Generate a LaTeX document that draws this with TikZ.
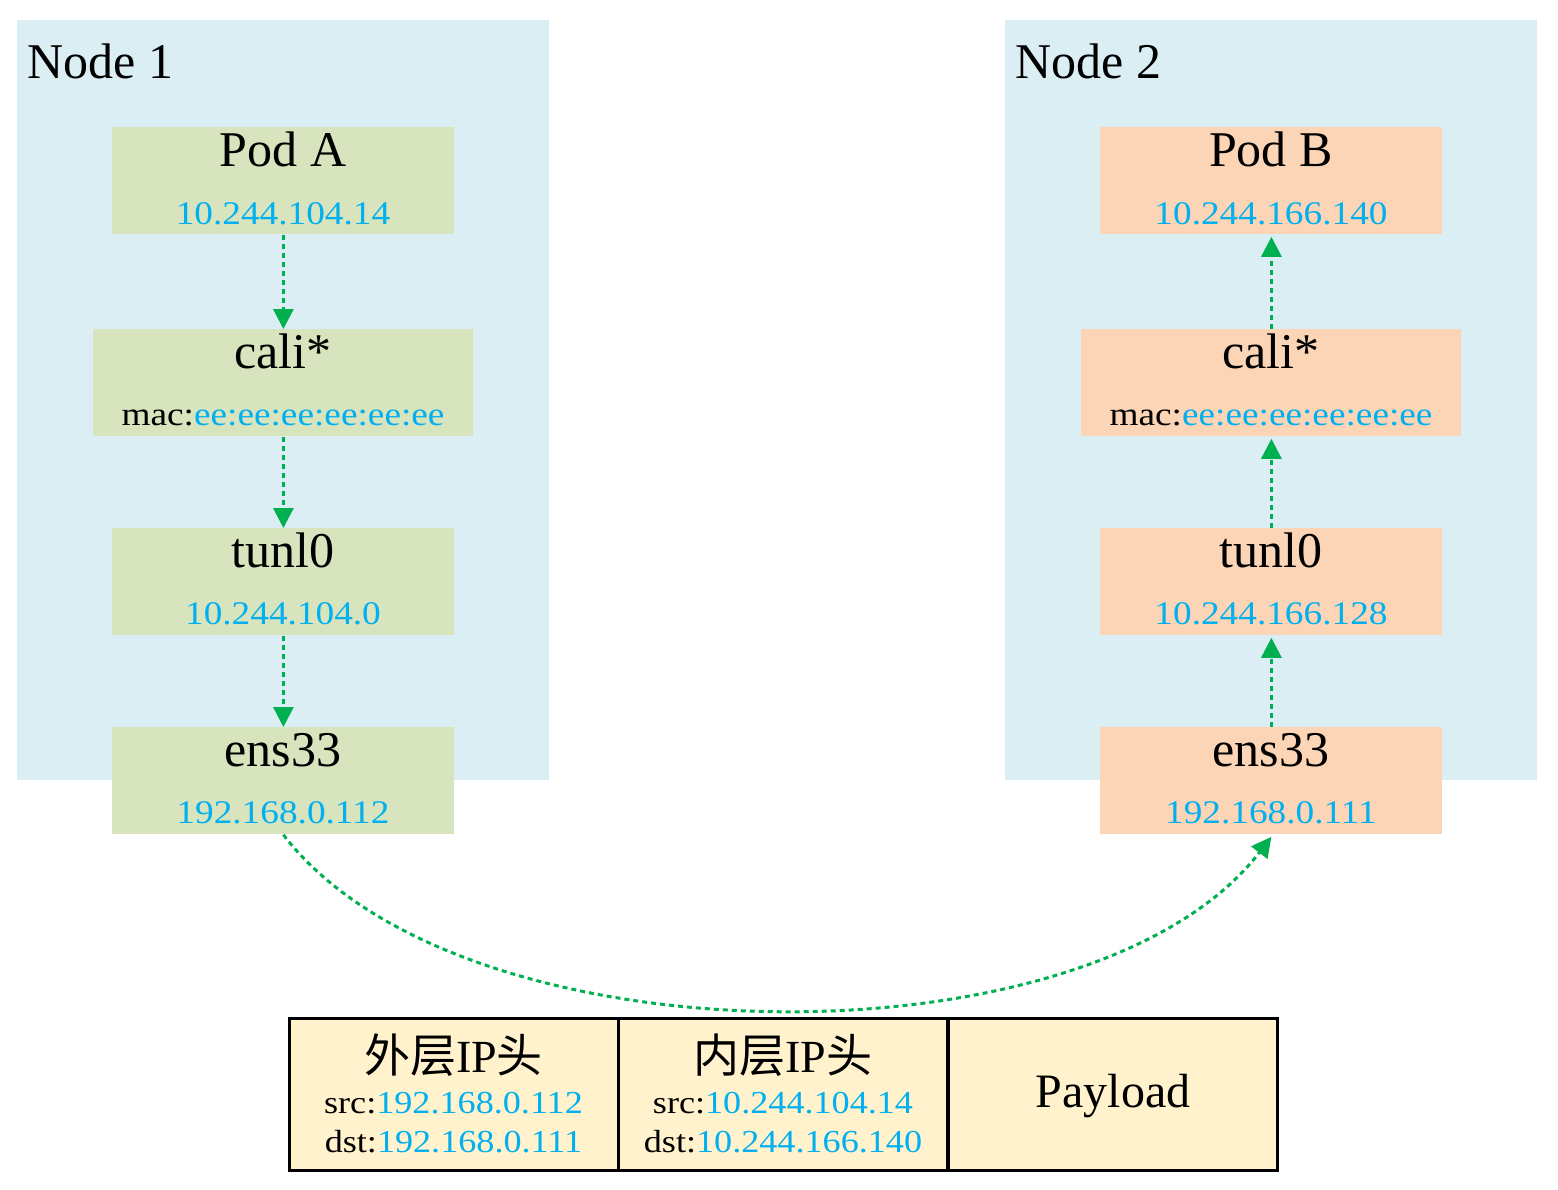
\documentclass[tikz,border=0pt]{standalone}
\usepackage{fontspec}
\setmainfont{Liberation Serif}
\newfontfamily\cjk{Noto Sans CJK SC}
\newfontfamily\widefont[FakeStretch=1.13]{Liberation Serif}
\usetikzlibrary{arrows.meta}
\definecolor{nodebg}{HTML}{DAEEF3}
\definecolor{greenbox}{HTML}{D7E4BD}
\definecolor{peachbox}{HTML}{FBD5B5}
\definecolor{tablebg}{HTML}{FFF2CC}
\definecolor{ipblue}{HTML}{00B0F0}
\definecolor{arrowgreen}{HTML}{00B050}
\begin{document}
\begin{tikzpicture}[x=0.5pt,y=-0.5pt,
  hostbox/.style={fill=nodebg, draw=none, inner sep=0pt, anchor=north west,
    minimum width=266pt, minimum height=380pt},
  ifbox/.style={draw=none, inner sep=0pt, anchor=north west,
    minimum width=171pt, minimum height=53.5pt},
  calibox/.style={ifbox, minimum width=190pt},
  title/.style={anchor=base, inner sep=0pt, font=\fontsize{25}{30}\selectfont},
  hosttitle/.style={anchor=base west, inner sep=0pt, font=\fontsize{25}{30}\selectfont},
  iptext/.style={anchor=base, inner sep=0pt, text=ipblue, font=\widefont\fontsize{16.5}{20}\selectfont},
  subtext/.style={anchor=base, inner sep=0pt, font=\widefont\fontsize{16}{20}\selectfont},
  cell/.style={draw=black, line width=1.5pt, fill=tablebg, inner sep=0pt,
    minimum width=164.5pt, minimum height=76pt},
  flow/.style={draw=arrowgreen, line width=1.5pt, dash pattern=on 2.5pt off 2pt,
    -{Triangle[length=10pt,width=10pt]}}]
\useasboundingbox (0,0) rectangle (1558,1189);

% hosts
\node[hostbox] (host1) at (17,20) {};
\node[hostbox] (host2) at (1005,20) {};
\node[hosttitle] (host1t) at (27,78) {Node 1};
\node[hosttitle] (host2t) at (1015,78) {Node 2};

% Node 1 interfaces
\node[ifbox, fill=greenbox] (podA) at (112,127) {};
\node[calibox, fill=greenbox] (cali1) at (93,329) {};
\node[ifbox, fill=greenbox] (tun1) at (112,528) {};
\node[ifbox, fill=greenbox] (ens1) at (112,727) {};

\node[title] (podAt) at (283,166) {Pod A};
\node[iptext] (podAip) at (283,224) {10.244.104.14};
\node[title] (cali1t) at (283,368) {cali*};
\node[iptext] (cali1ip) at (283,425) {\textcolor{black}{mac:}ee:ee:ee:ee:ee:ee};
\node[title] (tun1t) at (283,567) {tunl0};
\node[iptext] (tun1ip) at (283,624) {10.244.104.0};
\node[title] (ens1t) at (283,766) {ens33};
\node[iptext] (ens1ip) at (283,823) {192.168.0.112};

% Node 2 interfaces
\node[ifbox, fill=peachbox] (podB) at (1100,127) {};
\node[calibox, fill=peachbox] (cali2) at (1081,329) {};
\node[ifbox, fill=peachbox] (tun2) at (1100,528) {};
\node[ifbox, fill=peachbox] (ens2) at (1100,727) {};

\node[title] (podBt) at (1271,166) {Pod B};
\node[iptext] (podBip) at (1271,224) {10.244.166.140};
\node[title] (cali2t) at (1271,368) {cali*};
\node[iptext] (cali2ip) at (1271,425) {\textcolor{black}{mac:}ee:ee:ee:ee:ee:ee};
\node[title] (tun2t) at (1271,567) {tunl0};
\node[iptext] (tun2ip) at (1271,624) {10.244.166.128};
\node[title] (ens2t) at (1271,766) {ens33};
\node[iptext] (ens2ip) at (1271,823) {192.168.0.111};

% arrows
\draw[flow] (podA.south) -- (cali1.north);
\draw[flow] (cali1.south) -- (tun1.north);
\draw[flow] (tun1.south) -- (ens1.north);
\draw[flow] (cali2.north) -- ([yshift=-1pt]podB.south);
\draw[flow] (tun2.north) -- ([yshift=-1pt]cali2.south);
\draw[flow] (ens2.north) -- ([yshift=-1pt]tun2.south);
\draw[flow] (ens1.south) .. controls +(178,232) and +(-178,232) .. ([yshift=-1pt]ens2.south);

% packet
\node[cell] (outer) at (453.5,1094) {};
\node[cell] (inner) at (783,1094) {};
\node[cell] (payload) at (1113,1094) {};
\node[anchor=base, inner sep=0pt, font=\fontsize{23}{28}\selectfont] (outert) at (453.5,1072) {{\cjk 外层}IP{\cjk 头}};
\node[subtext] (outersrc) at (453.5,1113) {src:\textcolor{ipblue}{192.168.0.112}};
\node[subtext] (outerdst) at (453.5,1152) {dst:\textcolor{ipblue}{192.168.0.111}};
\node[anchor=base, inner sep=0pt, font=\fontsize{23}{28}\selectfont] (innert) at (783,1072) {{\cjk 内层}IP{\cjk 头}};
\node[subtext] (innersrc) at (783,1113) {src:\textcolor{ipblue}{10.244.104.14}};
\node[subtext] (innerdst) at (783,1152) {dst:\textcolor{ipblue}{10.244.166.140}};
\node[anchor=base, inner sep=0pt, font=\fontsize{24}{28}\selectfont] (payloadt) at (1113,1107) {Payload};
\end{tikzpicture}
\end{document}
